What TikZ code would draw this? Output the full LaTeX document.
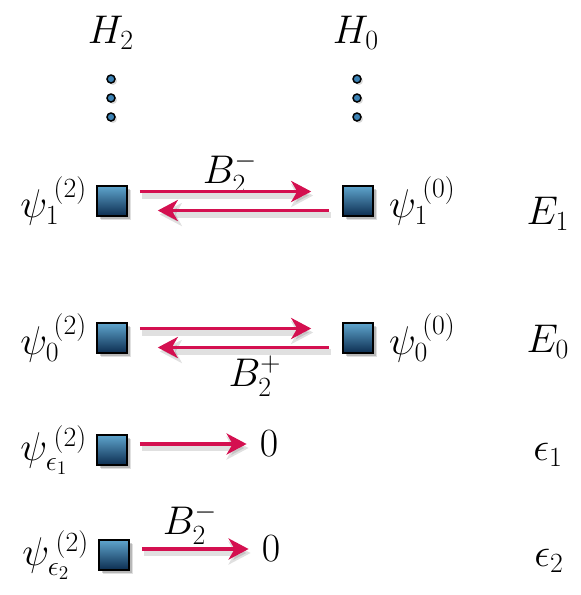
\documentclass[tikz,border=0pt]{standalone}
\usepackage{graphicx}
\usetikzlibrary{arrows.meta,shadows}
\DeclareMathSizes{24.88}{24.88}{17.28}{12}
\newcommand{\Lbl}[1]{\scalebox{1.61}{\fontsize{24.88}{30}\selectfont$#1$}}
\definecolor{arrred}{RGB}{212,16,80}
\definecolor{sqtop}{RGB}{95,165,205}
\definecolor{sqbot}{RGB}{12,45,80}
\definecolor{dotblue}{RGB}{60,130,180}
\begin{document}
\begin{tikzpicture}[x=1pt,y=-1pt,
  sq/.style={draw=black, line width=1.6pt, minimum size=30pt, inner sep=0pt,
    top color=sqtop, bottom color=sqbot,
    drop shadow={shadow xshift=4pt, shadow yshift=-4pt, opacity=0.12, fill=black},
    drop shadow={shadow xshift=2.5pt, shadow yshift=-2.5pt, opacity=0.18, fill=black}},
  dotn/.style={circle, draw=black, line width=1.5pt, fill=dotblue, minimum size=8pt, inner sep=0pt,
    drop shadow={shadow xshift=2pt, shadow yshift=-2pt, opacity=0.15, fill=black}},
  arr/.style={draw=arrred, line width=3.5pt, -{Stealth[length=20pt,width=21pt,inset=6pt]}},
  arrsh/.style={draw=black, opacity=0.12, line width=6pt, -{Stealth[length=22pt,width=23pt,inset=6pt]},
    transform canvas={xshift=2pt,yshift=-4pt}},
  lab/.style={inner sep=0pt},
]
\useasboundingbox (0,0) rectangle (581,595);

% column headers
\node[lab] (h2) at (111,33) {\Lbl{H_2}};
\node[lab] (h0) at (356,33) {\Lbl{H_0}};

% dots
\foreach \i/\yy in {1/79,2/98,3/117}{
  \node[dotn] (dl\i) at (111,\yy) {};
  \node[dotn] (dr\i) at (357,\yy) {};
}

% squares
\node[sq] (L1) at (112,201) {};
\node[sq] (R1) at (358,201) {};
\node[sq] (L0) at (112,338) {};
\node[sq] (R0) at (358,338) {};
\node[sq] (Le1) at (112,450) {};
\node[sq] (Le2) at (114,555) {};

% zeros
\node[lab] (Z1) at (269,444) {\Lbl{0}};
\node[lab] (Z2) at (271,549) {\Lbl{0}};

% state labels
\node[lab, anchor=east] (l1) at ([xshift=-9pt]L1.west) {\Lbl{\psi_1^{\kern4pt(2)}}};
\node[lab, anchor=east] (l0) at ([xshift=-9pt]L0.west) {\Lbl{\psi_0^{\kern4pt(2)}}};
\node[lab, anchor=east] (le1) at ([xshift=-9pt]Le1.west) {\Lbl{\psi_{\epsilon_1}^{\kern4pt(2)}}};
\node[lab, anchor=east] (le2) at ([xshift=-9pt]Le2.west) {\Lbl{\psi_{\epsilon_2}^{\kern4pt(2)}}};
\node[lab, anchor=west] (r1) at ([xshift=15pt]R1.east) {\Lbl{\psi_1^{\kern4pt(0)}}};
\node[lab, anchor=west] (r0) at ([xshift=15pt]R0.east) {\Lbl{\psi_0^{\kern4pt(0)}}};

% energies
\node[lab, anchor=base] (E1) at (548,224) {\Lbl{E_1}};
\node[lab, anchor=base] (E0) at (548,352) {\Lbl{E_0}};
\node[lab, anchor=base] (ee1) at (548,460) {\Lbl{\epsilon_1}};
\node[lab, anchor=base] (ee2) at (549,566) {\Lbl{\epsilon_2}};

% operator labels
\node[lab] (b1) at (230,173) {\Lbl{B_2^-}};
\node[lab] (b0) at (255,376) {\Lbl{B_2^+}};
\node[lab] (b2) at (190,524) {\Lbl{B_2^-}};

% arrow shadows
\draw[arrsh] ([xshift=12pt,yshift=9.5pt]L1.east) -- ([xshift=-31pt,yshift=9.5pt]R1.west);
\draw[arrsh] ([xshift=-13pt,yshift=-9.5pt]R1.west) -- ([xshift=30pt,yshift=-9.5pt]L1.east);
\draw[arrsh] ([xshift=12pt,yshift=9.5pt]L0.east) -- ([xshift=-31pt,yshift=9.5pt]R0.west);
\draw[arrsh] ([xshift=-13pt,yshift=-9.5pt]R0.west) -- ([xshift=30pt,yshift=-9.5pt]L0.east);
\draw[arrsh] ([xshift=12pt,yshift=6pt]Le1.east) -- ([xshift=-13pt]Z1.west);
\draw[arrsh] ([xshift=12pt,yshift=6pt]Le2.east) -- ([xshift=-13pt]Z2.west);

% arrows
\draw[arr] ([xshift=12pt,yshift=9.5pt]L1.east) -- ([xshift=-31pt,yshift=9.5pt]R1.west);
\draw[arr] ([xshift=-13pt,yshift=-9.5pt]R1.west) -- ([xshift=30pt,yshift=-9.5pt]L1.east);
\draw[arr] ([xshift=12pt,yshift=9.5pt]L0.east) -- ([xshift=-31pt,yshift=9.5pt]R0.west);
\draw[arr] ([xshift=-13pt,yshift=-9.5pt]R0.west) -- ([xshift=30pt,yshift=-9.5pt]L0.east);
\draw[arr] ([xshift=12pt,yshift=6pt]Le1.east) -- ([xshift=-13pt]Z1.west);
\draw[arr] ([xshift=12pt,yshift=6pt]Le2.east) -- ([xshift=-13pt]Z2.west);
\end{tikzpicture}
\end{document}
